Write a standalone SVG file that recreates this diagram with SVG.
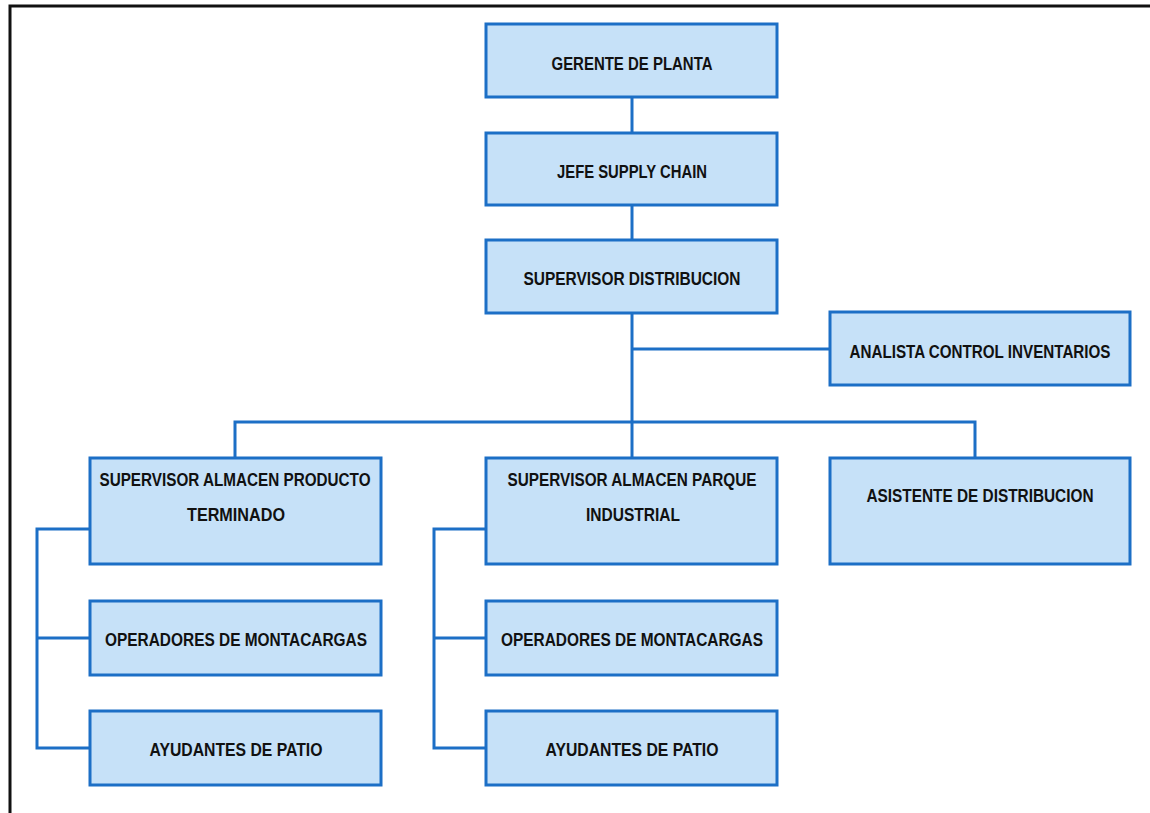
<svg xmlns="http://www.w3.org/2000/svg" width="1150" height="813" viewBox="0 0 1150 813">
<style>
.box{fill:#C6E1F8;stroke:#1C6FC6;stroke-width:3}
.lbl{font-family:"Liberation Sans","DejaVu Sans",sans-serif;font-weight:bold;font-size:19px;fill:#111;text-anchor:middle}
.con{fill:none;stroke:#1C6FC6;stroke-width:3}
</style>
<rect x="0" y="0" width="1150" height="813" fill="#fff"/>
<path d="M10 813 V6 H1150" fill="none" stroke="#111" stroke-width="3"/>
<g id="connectors">
<path class="con" d="M632 97 V133"/>
<path class="con" d="M632 205 V240"/>
<path class="con" d="M632 313 V458"/>
<path class="con" d="M632 349 H830"/>
<path class="con" d="M235 458 V422 H975 V458"/>
<path class="con" d="M90 529 H37 V748 H90"/>
<path class="con" d="M37 638 H90"/>
<path class="con" d="M486 529 H434 V748 H486"/>
<path class="con" d="M434 638 H486"/>
</g>
<g id="gerente"><rect class="box" x="486" y="24" width="291" height="73"/><text class="lbl" x="632" y="70" textLength="161" lengthAdjust="spacingAndGlyphs">GERENTE DE PLANTA</text></g>
<g id="jefe"><rect class="box" x="486" y="133" width="291" height="72"/><text class="lbl" x="632" y="178" textLength="150" lengthAdjust="spacingAndGlyphs">JEFE SUPPLY CHAIN</text></g>
<g id="supdist"><rect class="box" x="486" y="240" width="291" height="73"/><text class="lbl" x="632" y="285" textLength="217" lengthAdjust="spacingAndGlyphs">SUPERVISOR DISTRIBUCION</text></g>
<g id="analista"><rect class="box" x="830" y="312" width="300" height="73"/><text class="lbl" transform="translate(980 358) scale(0.8 1)" x="0" y="0">ANALISTA CONTROL INVENTARIOS</text></g>
<g id="supterm"><rect class="box" x="90" y="458" width="291" height="106"/><text class="lbl" x="235" y="486" textLength="271" lengthAdjust="spacingAndGlyphs">SUPERVISOR ALMACEN PRODUCTO</text><text class="lbl" x="236" y="521" textLength="98" lengthAdjust="spacingAndGlyphs">TERMINADO</text></g>
<g id="suppark"><rect class="box" x="486" y="458" width="291" height="106"/><text class="lbl" x="632" y="486" textLength="249" lengthAdjust="spacingAndGlyphs">SUPERVISOR ALMACEN PARQUE</text><text class="lbl" x="633" y="521" textLength="94" lengthAdjust="spacingAndGlyphs">INDUSTRIAL</text></g>
<g id="asistente"><rect class="box" x="830" y="458" width="300" height="106"/><text class="lbl" x="980" y="502" textLength="227" lengthAdjust="spacingAndGlyphs">ASISTENTE DE DISTRIBUCION</text></g>
<g id="oper1"><rect class="box" x="90" y="601" width="291" height="74"/><text class="lbl" x="236" y="646" textLength="262" lengthAdjust="spacingAndGlyphs">OPERADORES DE MONTACARGAS</text></g>
<g id="ayud1"><rect class="box" x="90" y="711" width="291" height="74"/><text class="lbl" x="236" y="756" textLength="173" lengthAdjust="spacingAndGlyphs">AYUDANTES DE PATIO</text></g>
<g id="oper2"><rect class="box" x="486" y="601" width="291" height="74"/><text class="lbl" x="632" y="646" textLength="262" lengthAdjust="spacingAndGlyphs">OPERADORES DE MONTACARGAS</text></g>
<g id="ayud2"><rect class="box" x="486" y="711" width="291" height="74"/><text class="lbl" x="632" y="756" textLength="173" lengthAdjust="spacingAndGlyphs">AYUDANTES DE PATIO</text></g>
</svg>
